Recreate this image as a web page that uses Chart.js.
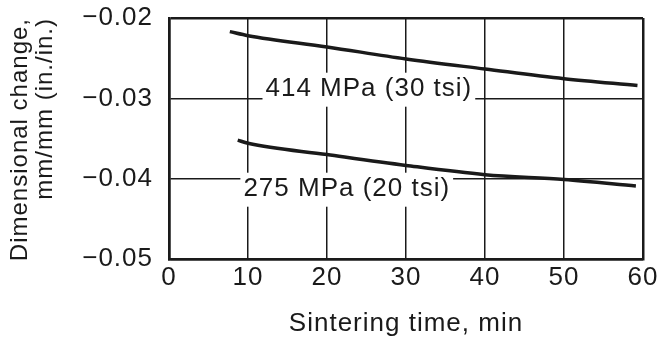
<!DOCTYPE html>
<html>
<head>
<meta charset="utf-8">
<script src="https://cdn.jsdelivr.net/npm/chart.js@4"></script>
<style>
  body { margin: 0; background: #fff; }
  #wrap { width: 664px; height: 342px; }
</style>
</head>
<body>
<div id="wrap"><canvas id="sinterChart"></canvas></div>
<script>
// Sintering time (min) vs dimensional change (mm/mm)
const time414 = [7.7, 10, 20, 30, 40, 50, 59.3];
const change414 = [-0.0217, -0.0222, -0.0236, -0.0251, -0.02635, -0.02756, -0.0284];
const time275 = [8.7, 10, 20, 30, 40, 50, 59.1];
const change275 = [-0.0352, -0.0356, -0.0370, -0.03835, -0.0395, -0.0401, -0.0409];

// Axis ticks
const xTicks = [0, 10, 20, 30, 40, 50, 60];
const yTicks = [-0.05, -0.04, -0.03, -0.02];

// Curve labels
const curveLabels = ["414 MPa (30 tsi)", "275 MPa (20 tsi)"];

const FONT = "'Liberation Sans', Arial, Helvetica, sans-serif";
const INK = "#1a1a1a";

const toPoints = (xs, ys) => xs.map((t, i) => ({ x: t, y: ys[i] }));

// slightly wider letter spacing, like the scanned lettering
const spacingPlugin = {
  id: "spacing",
  beforeUpdate(chart) { chart.ctx.letterSpacing = "1px"; },
  beforeDraw(chart) { chart.ctx.letterSpacing = "1px"; },
};

// label each curve in data coordinates, with a white box that breaks the grid
const curveLabelPlugin = {
  id: "curveLabels",
  beforeDatasetsDraw(chart, args, opts) {
    const { ctx, scales: { x, y } } = chart;
    ctx.save();
    ctx.font = "26px " + FONT;
    ctx.textAlign = "center";
    ctx.textBaseline = "middle";
    opts.anchors.forEach((a, i) => {
      const px = x.getPixelForValue(a.x);
      const py = y.getPixelForValue(a.y);
      const w = ctx.measureText(curveLabels[i]).width;
      ctx.fillStyle = "#fff";
      ctx.fillRect(px - w / 2 - 3, py - 16, w + 6, 34);
      ctx.fillStyle = INK;
      ctx.fillText(curveLabels[i], px, py);
    });
    ctx.restore();
  },
};

const edgeWidth = (vals) => (c) =>
  (c.tick && (Math.abs(c.tick.value - vals[0]) < 1e-9 || Math.abs(c.tick.value - vals[vals.length - 1]) < 1e-9)) ? 2.5 : 1.5;

const config = {
  type: "line",
  data: {
    datasets: [
      {
        label: curveLabels[0],
        data: toPoints(time414, change414),
        borderColor: INK,
        borderWidth: 3.5,
        pointRadius: 0,
        cubicInterpolationMode: "monotone",
        fill: false,
      },
      {
        label: curveLabels[1],
        data: toPoints(time275, change275),
        borderColor: INK,
        borderWidth: 3.5,
        pointRadius: 0,
        cubicInterpolationMode: "monotone",
        fill: false,
      },
    ],
  },
  options: {
    responsive: true,
    maintainAspectRatio: false,
    animation: false,
    layout: { padding: { top: 18, right: 21, bottom: 0, left: 0 } },
    plugins: {
      legend: { display: false },
      tooltip: { enabled: false },
      curveLabels: {
        anchors: [
          { x: 25.3, y: -0.0288 },
          { x: 22.5, y: -0.04125 },
        ],
      },
    },
    scales: {
      x: {
        type: "linear",
        min: 0,
        max: 60,
        afterBuildTicks: (s) => { s.ticks = xTicks.map((v) => ({ value: v })); },
        afterFit: (s) => { s.height = 83; },
        grid: { color: INK, lineWidth: edgeWidth(xTicks), drawTicks: false },
        border: { color: INK, width: 2.5 },
        ticks: { color: INK, padding: 3, font: { family: FONT, size: 26 } },
        title: {
          display: true,
          text: "Sintering time, min",
          color: INK,
          padding: { top: 0, bottom: 3 },
          font: { family: FONT, size: 26 },
        },
      },
      y: {
        min: -0.05,
        max: -0.02,
        afterBuildTicks: (s) => { s.ticks = yTicks.map((v) => ({ value: v })); },
        afterFit: (s) => {
          s.width = 169;
          s.paddingTop = 10;
          s.paddingBottom = 10;
        },
        grid: { color: INK, lineWidth: edgeWidth(yTicks), drawTicks: false },
        border: { color: INK, width: 2.5 },
        ticks: {
          color: INK,
          padding: 16,
          font: { family: FONT, size: 26 },
          callback: (v) => "\u2212" + Math.abs(v).toFixed(2),
        },
        title: {
          display: true,
          text: ["Dimensional change,", "mm/mm (in./in.)"],
          align: "end",
          color: INK,
          padding: { top: 7.5, bottom: 0 },
          font: { family: FONT, size: 24, lineHeight: 1.04 },
        },
      },
    },
  },
  plugins: [spacingPlugin, curveLabelPlugin],
};

// Render the chart
const ctx = document.getElementById("sinterChart").getContext("2d");
new Chart(ctx, config);
</script>
</body>
</html>
